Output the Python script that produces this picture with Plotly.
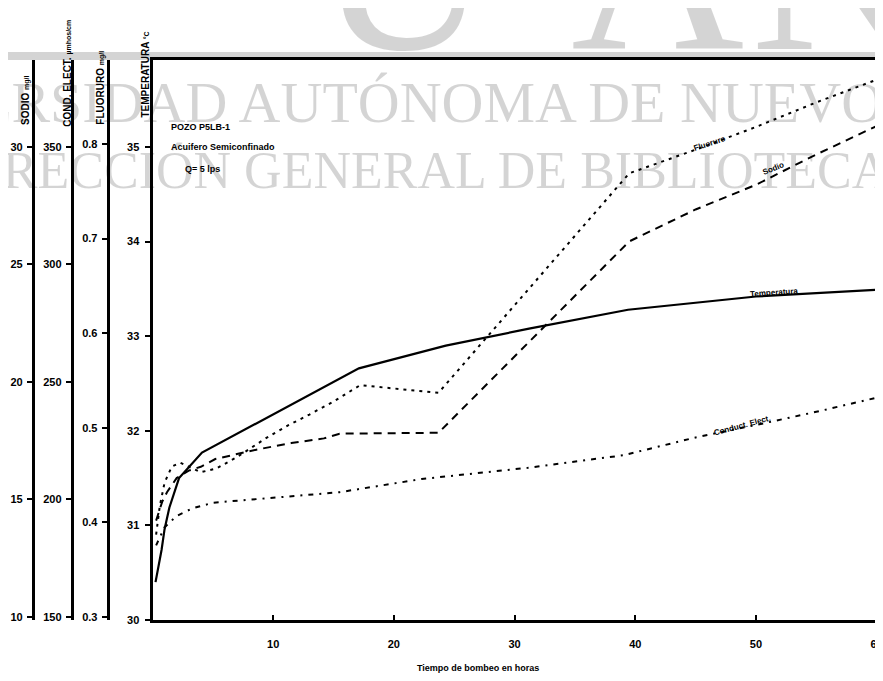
import plotly.graph_objects as go

# Curvas (tiempo de bombeo en horas)
horas_temp = [0.25, 0.75, 1.0, 1.4, 2.2, 4.1, 17.1, 24.3, 31.2, 39.4, 50, 60]
temperatura = [30.4, 30.74, 30.96, 31.19, 31.5, 31.77, 32.66, 32.9, 33.08, 33.28, 33.42, 33.49]

horas_fluor = [0.3, 0.6, 1.0, 1.6, 2.3, 3.0, 4.0, 5.3, 7.0, 9.4, 11.3, 13.0, 14.9, 17.2,
               20.5, 23.7, 39.5, 45, 50, 55, 60]
fluoruro = [0.387, 0.417, 0.442, 0.459, 0.463, 0.459, 0.453, 0.457, 0.469, 0.489, 0.503,
            0.514, 0.527, 0.545, 0.541, 0.537, 0.769, 0.794, 0.818, 0.844, 0.868]

horas_sodio = [0.3, 0.8, 1.2, 2.0, 3.0, 4.0, 5.2, 8.6, 11.5, 14.2, 15.5, 23.7, 39.5, 45, 50, 55, 60]
sodio = [14.1, 14.9, 15.31, 15.91, 16.23, 16.39, 16.72, 17.12, 17.4, 17.6, 17.8, 17.84,
         25.98, 27.34, 28.39, 29.68, 30.89]

horas_cond = [0.3, 1.0, 2.0, 3.3, 5.0, 10, 15.5, 22.3, 31.1, 39.0, 45, 50, 55, 60]
conductividad = [180.5, 188.2, 193.0, 196.2, 198.6, 200.7, 203.1, 208.7, 213.5, 218.8,
                 226.4, 231.7, 237.3, 243.3]

ticks_horas = [10, 20, 30, 40, 50, 60]
ticks_temp = [30, 31, 32, 33, 34, 35]
ticks_fluor = [0.3, 0.4, 0.5, 0.6, 0.7, 0.8]
ticks_cond = [150, 200, 250, 300, 350]
ticks_sodio = [10, 15, 20, 25, 30]

# la pagina deja 8px de margen arriba y a la izquierda
OFF = 8
W, H = 883 - OFF, 681 - OFF
ML, MR, MT, MB = 0, 3, 60 - OFF, 61
PW = W - ML - MR
PH = H - MT - MB


def px(x):
    # x en pixeles de la ventana -> coordenada paper
    return (x - OFF - ML) / PW


def py(y):
    return (H - MB - (y - OFF)) / PH


FONT = "Liberation Sans"
tick_font = dict(family=FONT, size=11, color="black", weight="bold")

fig = go.Figure()

fig.add_trace(go.Scatter(x=horas_temp, y=temperatura, mode="lines", name="Temperatura",
                         line=dict(color="black", width=2.2), yaxis="y"))
fig.add_trace(go.Scatter(x=horas_fluor, y=fluoruro, mode="lines", name="Fluoruro",
                         line=dict(color="black", width=2, dash="3px,5px"), yaxis="y2"))
fig.add_trace(go.Scatter(x=horas_cond, y=conductividad, mode="lines", name="Conduct. Elect.",
                         line=dict(color="black", width=2, dash="5px,6px,2px,6px"), yaxis="y3"))
fig.add_trace(go.Scatter(x=horas_sodio, y=sodio, mode="lines", name="Sodio",
                         line=dict(color="black", width=2, dash="8px,6px"), yaxis="y4"))

axis_common = dict(showgrid=False, zeroline=False, showline=True, linecolor="black",
                   linewidth=3, ticks="outside", ticklen=5, tickwidth=1.5, tickcolor="black",
                   tickfont=tick_font, fixedrange=True)

fig.update_layout(
    width=W, height=H,
    margin=dict(l=ML, r=MR, t=MT, b=MB),
    paper_bgcolor="white", plot_bgcolor="rgba(0,0,0,0)",
    showlegend=False,
    xaxis=dict(domain=[px(153), 1], range=[0, 60.03], tickvals=ticks_horas,
               showgrid=False, zeroline=False, showline=True, mirror=True,
               linecolor="black", linewidth=3, ticks="inside", ticklen=5, tickwidth=1.5,
               tickcolor="black", tickfont=tick_font, ticklabelstandoff=12, anchor="y",
               ticklabeloverflow="allow"),
    yaxis=dict(range=[30, 35.92], tickvals=ticks_temp, mirror=True,
               ticklabelstandoff=3, **axis_common),
    yaxis2=dict(range=[0.2968, 0.8888], tickvals=ticks_fluor, tickformat=".1f",
                overlaying="y", anchor="free", position=px(108), side="left",
                ticklabelstandoff=2, **axis_common),
    yaxis3=dict(range=[148.72, 387.0], tickvals=ticks_cond,
                overlaying="y", anchor="free", position=px(72), side="left",
                ticklabelstandoff=2, **axis_common),
    yaxis4=dict(range=[9.872, 33.7], tickvals=ticks_sodio,
                overlaying="y", anchor="free", position=px(33), side="left",
                ticklabelstandoff=2, **axis_common),
)

# marca de agua del escaneo
wm = "rgba(0,0,0,0.17)"
serif = "Liberation Serif"
fig.add_shape(type="rect", xref="paper", yref="paper", x0=px(0), x1=1.01,
              y0=py(60), y1=py(52), fillcolor=wm, line_width=0, layer="below")
fig.add_annotation(text="UNIVERSIDAD AUTÓNOMA DE NUEVO LEÓN", xref="paper", yref="paper",
                   x=px(-172), y=py(103), xanchor="left", yanchor="middle", showarrow=False,
                   font=dict(family=serif, size=58, color=wm))
fig.add_annotation(text="DIRECCIÓN GENERAL DE BIBLIOTECAS", xref="paper", yref="paper",
                   x=px(-54), y=py(171), xanchor="left", yanchor="middle", showarrow=False,
                   font=dict(family=serif, size=52, color=wm))
for letra, cx in [("U", 405), ("A", 660), ("N", 840)]:
    fig.add_annotation(text=letra, xref="paper", yref="paper", x=px(cx), y=py(-32),
                       xanchor="center", yanchor="middle", showarrow=False,
                       font=dict(family=serif, size=240, color=wm))

# titulos de los ejes verticales
titulos = [
    ("SODIO <span style='font-size:7px'>mg/l</span>", 26, 100),
    ("COND. ELECT. <span style='font-size:7px'>µmhos/cm</span>", 67, 73),
    ("FLUORURO <span style='font-size:7px'>mg/l</span>", 100, 88),
    ("TEMPERATURA <span style='font-size:7px'>°C</span>", 145, 75),
]
for txt, x, y in titulos:
    fig.add_annotation(text=txt, xref="paper", yref="paper", x=px(x), y=py(y),
                       textangle=-90, showarrow=False, xanchor="center", yanchor="middle",
                       font=dict(family=FONT, size=10, color="black", weight="bold"))

# textos del pozo
info = [("POZO P5LB-1", 170, 127), ("Acuifero Semiconfinado", 170, 147), ("Q= 5 lps", 184, 169)]
for txt, x, y in info:
    fig.add_annotation(text=txt, xref="paper", yref="paper", x=px(x), y=py(y),
                       xanchor="left", yanchor="middle", showarrow=False,
                       font=dict(family=FONT, size=9, color="black", weight="bold"))

# etiquetas de las curvas
etiquetas = [("Fluoruro", 712, 143, -18), ("Sodio", 776, 168, -22),
             ("Temperatura", 777, 292, -4), ("Conduct. Elect.", 745, 425, -15)]
for txt, x, y, ang in etiquetas:
    fig.add_annotation(text=txt, xref="paper", yref="paper", x=px(x), y=py(y),
                       textangle=ang, showarrow=False, xanchor="center", yanchor="middle",
                       font=dict(family=FONT, size=8, color="black", weight="bold"))

fig.add_annotation(text="Tiempo de bombeo en horas", xref="paper", yref="paper",
                   x=px(480), y=py(668), showarrow=False, xanchor="center", yanchor="middle",
                   font=dict(family=FONT, size=9, color="black", weight="bold"))

fig.write_html("out.html")
